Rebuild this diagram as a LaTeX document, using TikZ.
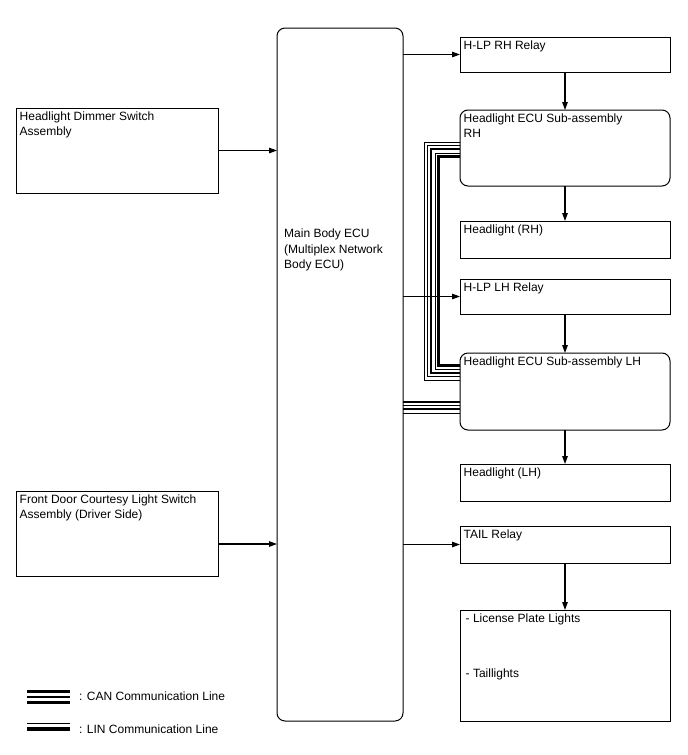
\documentclass[tikz,border=0pt]{standalone}
\usepackage{fontspec}
\setmainfont{Liberation Sans}
\usetikzlibrary{arrows.meta,positioning,calc}

\tikzset{
  blk/.style={draw, line width=1pt, rectangle, anchor=north west, inner sep=0pt, outer sep=0pt},
  rblk/.style={blk, rounded corners=8pt},
  txt/.style={label={[anchor=north west, align=left, inner sep=3.5pt]north west:{#1}}},
  arr/.style={-{Triangle[length=8pt,width=5.5pt]}, line width=1.2pt},
}

\begin{document}
\begin{tikzpicture}[x=1pt, y=-1pt, font=\fontsize{12}{15.5}\selectfont]
  \useasboundingbox (0,0) rectangle (688,755);

  % Switches (left column)
  \node[blk, minimum width=202pt, minimum height=85pt, txt={Headlight Dimmer Switch\\Assembly}] (dimmer) at (16,108) {};
  \node[blk, minimum width=202pt, minimum height=85pt, txt={Front Door Courtesy Light Switch\\Assembly (Driver Side)}] (door) at (16,491) {};

  % Main Body ECU
  \node[rblk, minimum width=126pt, minimum height=693pt,
    label={[anchor=north west, align=left, inner sep=0pt, xshift=7pt, yshift=-201pt]north west:{Main Body ECU\\(Multiplex Network\\Body ECU)}}] (ecu) at (277,28) {};

  % Right column
  \node[blk, minimum width=210pt, minimum height=35pt, txt={H-LP RH Relay}] (hlprh) at (460,37) {};
  \node[rblk, minimum width=210pt, minimum height=76pt, txt={Headlight ECU Sub-assembly\\RH}] (rhecu) at (460,110) {};
  \node[blk, minimum width=210pt, minimum height=37pt, txt={Headlight (RH)}] (hlrh) at (460,221) {};
  \node[blk, minimum width=210pt, minimum height=35pt, txt={H-LP LH Relay}] (hlplh) at (460,279) {};
  \node[rblk, minimum width=210pt, minimum height=77pt, txt={Headlight ECU Sub-assembly LH}] (lhecu) at (460,353) {};
  \node[blk, minimum width=210pt, minimum height=37pt, txt={Headlight (LH)}] (hllh) at (460,464) {};
  \node[blk, minimum width=210pt, minimum height=37pt, txt={TAIL Relay}] (tail) at (460,526) {};
  \node[blk, minimum width=210pt, minimum height=111pt, txt={\,- License Plate Lights\\[39.5pt]\,- Taillights}] (lamps) at (460,610) {};

  % LIN line between the headlight ECUs
  \foreach \d/\w in {0/1pt, 3.5/1pt, 7/2.5pt, 11/1pt, 14.5/2.5pt}
    \draw[line width=\w] ($(rhecu.west)+(0,-6+\d)$) -- ++(-36+\d,0) |- ($(lhecu.west)+(0,-11.5-\d)$);

  % CAN line to the LH headlight ECU
  \foreach \dy/\w in {10/2pt, 13.5/1pt, 17.5/2.5pt, 21.5/1pt}
    \draw[line width=\w] ($(lhecu.west -| ecu.east)+(0,\dy)$) -- ($(lhecu.west)+(0,\dy)$);

  % Inputs
  \draw[arr] (dimmer.east) -- (dimmer.east -| ecu.west);
  \draw[arr] ($(door.north east)+(0,53)$) -- ($(door.north east -| ecu.west)+(0,53)$);

  % Outputs
  \draw[arr] (hlprh.west -| ecu.east) -- (hlprh.west);
  \draw[arr] (hlplh.west -| ecu.east) -- (hlplh.west);
  \draw[arr] (tail.west -| ecu.east) -- (tail.west);
  \draw[arr] (hlprh.south) -- (rhecu.north);
  \draw[arr] (rhecu.south) -- (hlrh.north);
  \draw[arr] (hlplh.south) -- (lhecu.north);
  \draw[arr] (lhecu.south) -- (hllh.north);
  \draw[arr] (tail.south) -- (lamps.north);

  % Legend
  \draw[line width=3pt] (27,691.5) -- (70,691.5);
  \draw[line width=2pt] (27,697) -- (70,697);
  \draw[line width=3pt] (27,702) -- (70,702);
  \node[anchor=west, inner sep=0pt] (canlbl) at (79,696) {: CAN Communication Line};
  \draw[line width=1.8pt] (27,723.5) -- (70,723.5);
  \draw[line width=4pt] (27,729) -- (70,729);
  \node[anchor=west, inner sep=0pt] (linlbl) at (79,729) {: LIN Communication Line};
\end{tikzpicture}
\end{document}
